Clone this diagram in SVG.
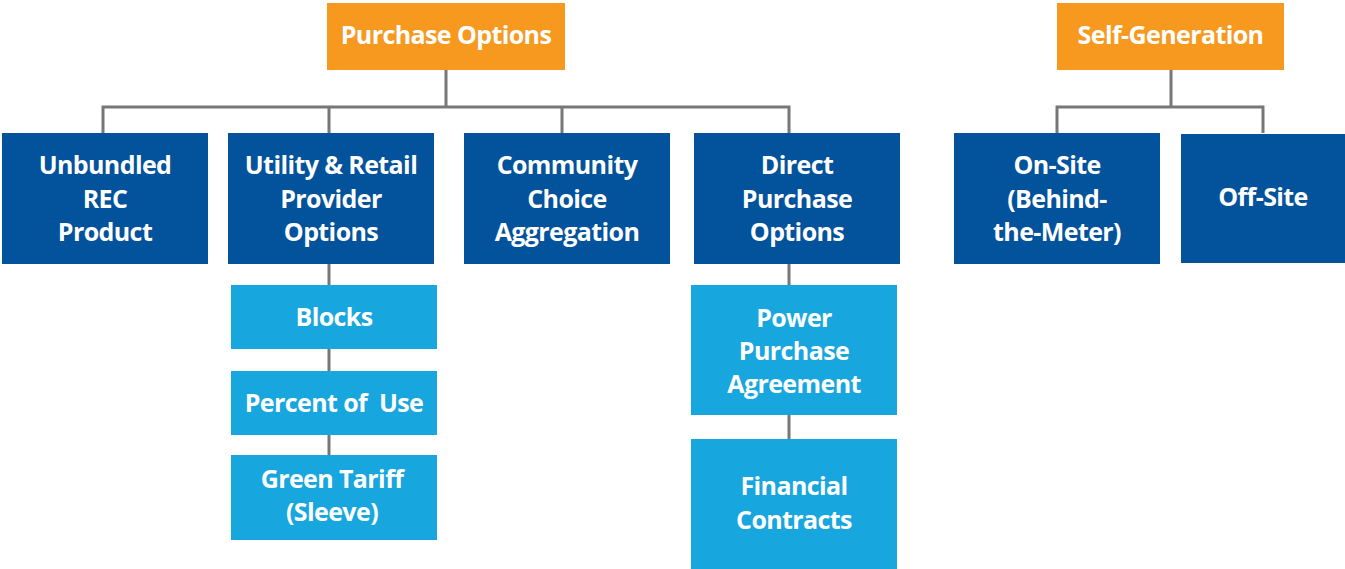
<svg xmlns="http://www.w3.org/2000/svg" width="1345" height="569" viewBox="0 0 1345 569">
<style>
.top{fill:#F7991F}
.main{fill:#02529C}
.sub{fill:#18A6DF}
.t{font-family:"Open Sans","Liberation Sans",sans-serif;font-weight:700;font-size:25px;letter-spacing:-0.6px;fill:#fff;text-anchor:middle}
.c{fill:none;stroke:#777;stroke-width:3}
</style>
<rect width="1345" height="569" fill="#fff"/>
<g id="connectors">
<path class="c" d="M446 70V107M103 133V107H789V133M329 107V133M562 107V133"/>
<path class="c" d="M1171 70V107M1057 133V107H1263V133"/>
<path class="c" d="M329 264V455"/>
<path class="c" d="M789 264V439"/>
</g>
<g id="purchase-options"><rect class="top" x="327" y="3" width="238" height="67"/><text class="t" x="446" y="44">Purchase Options</text></g>
<g id="self-generation"><rect class="top" x="1057" y="3" width="227" height="67"/><text class="t" x="1170.5" y="44">Self-Generation</text></g>
<g id="unbundled"><rect class="main" x="2" y="133" width="206" height="131"/><text class="t" x="105"><tspan x="105" y="174">Unbundled</tspan><tspan x="105" y="208">REC</tspan><tspan x="105" y="241">Product</tspan></text></g>
<g id="utility"><rect class="main" x="228" y="133" width="206" height="131"/><text class="t" x="331"><tspan x="331" y="174">Utility &amp; Retail</tspan><tspan x="331" y="208">Provider</tspan><tspan x="331" y="241">Options</tspan></text></g>
<g id="community"><rect class="main" x="464" y="133" width="206" height="131"/><text class="t" x="567"><tspan x="567" y="174">Community</tspan><tspan x="567" y="208">Choice</tspan><tspan x="567" y="241">Aggregation</tspan></text></g>
<g id="direct"><rect class="main" x="694" y="133" width="206" height="131"/><text class="t" x="797"><tspan x="797" y="174">Direct</tspan><tspan x="797" y="208">Purchase</tspan><tspan x="797" y="241">Options</tspan></text></g>
<g id="on-site"><rect class="main" x="954" y="133" width="206" height="131"/><text class="t" x="1057"><tspan x="1057" y="174">On-Site</tspan><tspan x="1057" y="208">(Behind-</tspan><tspan x="1057" y="241">the-Meter)</tspan></text></g>
<g id="off-site"><rect class="main" x="1181" y="134" width="164" height="129"/><text class="t" x="1263" y="206">Off-Site</text></g>
<g id="blocks"><rect class="sub" x="231" y="285" width="206" height="64"/><text class="t" x="334" y="326">Blocks</text></g>
<g id="percent"><rect class="sub" x="231" y="371" width="206" height="64"/><text class="t" x="334" y="412" xml:space="preserve">Percent of  Use</text></g>
<g id="green-tariff"><rect class="sub" x="231" y="455" width="206" height="85"/><text class="t" x="332"><tspan x="332" y="488">Green Tariff</tspan><tspan x="332" y="521">(Sleeve)</tspan></text></g>
<g id="ppa"><rect class="sub" x="691" y="285" width="206" height="130"/><text class="t" x="794"><tspan x="794" y="327">Power</tspan><tspan x="794" y="360">Purchase</tspan><tspan x="794" y="393">Agreement</tspan></text></g>
<g id="financial"><rect class="sub" x="691" y="439" width="206" height="130"/><text class="t" x="794"><tspan x="794" y="495">Financial</tspan><tspan x="794" y="529">Contracts</tspan></text></g>
</svg>
